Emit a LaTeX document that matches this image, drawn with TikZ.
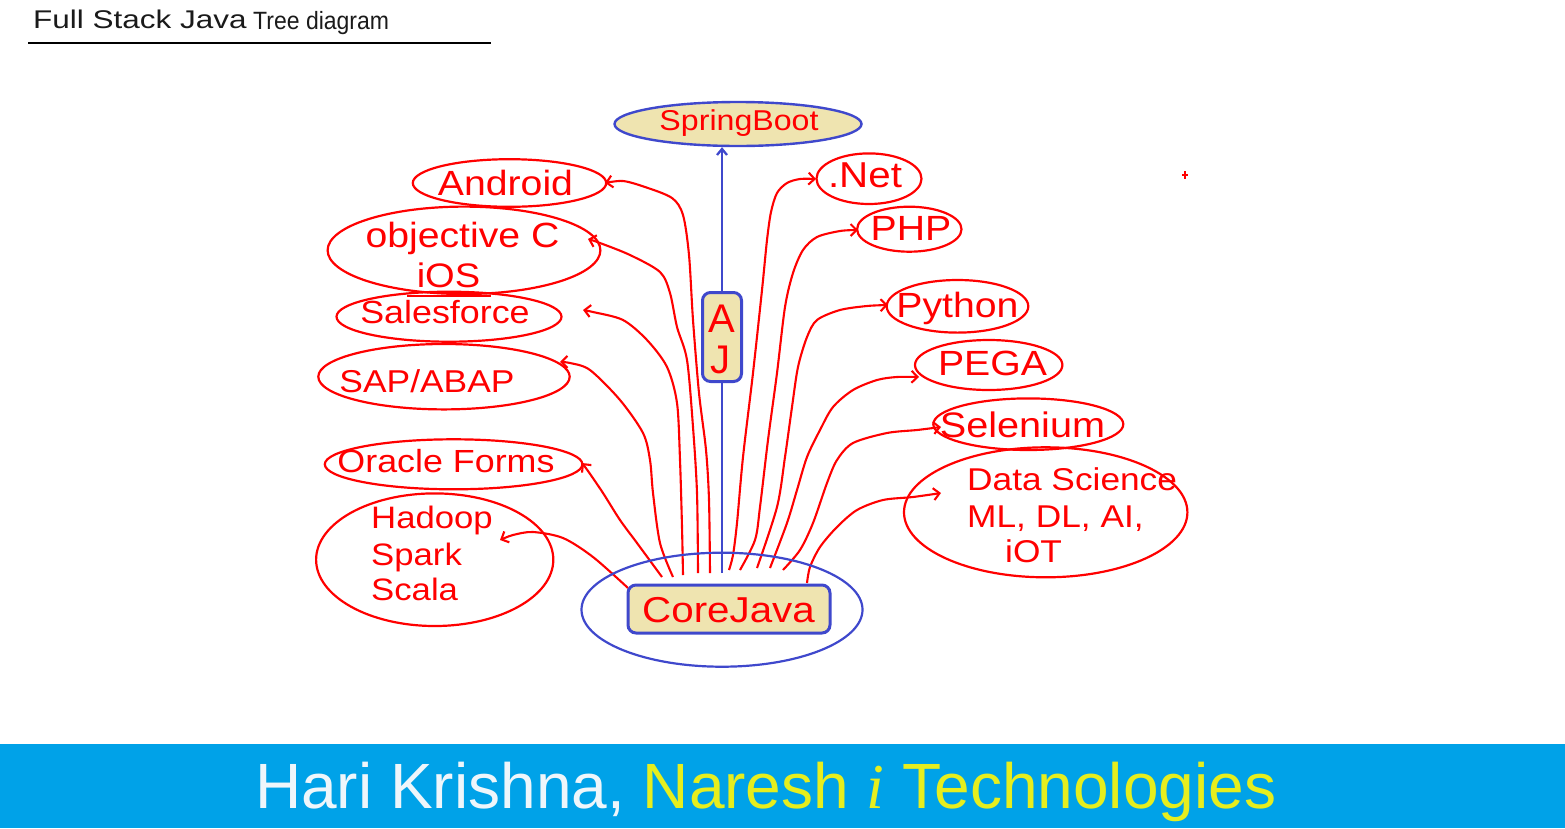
\documentclass[tikz,border=0pt]{standalone}
\usepackage{fontspec}
\setmainfont{Liberation Sans}
\newfontfamily\serifit{Liberation Serif}
\usepackage{graphicx}
\usetikzlibrary{shapes.geometric,arrows.meta}
\definecolor{rd}{HTML}{FF0000}
\definecolor{blu}{HTML}{3F48CC}
\definecolor{tanf}{HTML}{EFE4B0}
\definecolor{band}{HTML}{00A2E8}
\definecolor{yel}{HTML}{E6EE1E}
\definecolor{wht}{HTML}{EEF6FB}
\definecolor{ttl}{HTML}{1A1A1A}
\newcommand{\sx}[1]{\scalebox{1.12}[1]{#1}}
\newcommand{\fs}[1]{\fontsize{#1}{#1}\selectfont}
\begin{document}
\begin{tikzpicture}[x=1pt,y=-1pt,
  oval/.style={draw=rd, line width=2.2pt, ellipse, inner sep=0pt},
  lbl/.style={text=rd, anchor=base, inner sep=0pt},
  lblw/.style={text=rd, anchor=base west, inner sep=0pt},
  conn/.style={draw=rd, line width=2.1pt, -{Straight Barb[length=6pt,width=12pt]}},
  bconn/.style={draw=blu, line width=2.3pt},
  tanbox/.style={draw=blu, line width=3pt, fill=tanf, rounded corners=8pt, inner sep=0pt}]
\useasboundingbox (0,0) rectangle (1565,828);

% title
\node[anchor=base west, inner sep=0pt, text=ttl] (title1) at (33,28.3) {\fs{25.6}\scalebox{1.23}[1]{Full Stack Java}};
\node[anchor=base west, inner sep=0pt, text=ttl] (title2) at (253,29.3) {\fs{25}\scalebox{0.92}[1]{Tree diagram}};
\draw[line width=2.8pt] (28,43) -- (491,43);

% left ellipses
\node[oval, minimum width=193.4pt, minimum height=47.6pt] (android) at (509.5,183) {};
\node[lbl, font=\fs{35}] (tandroid) at (505.5,195) {\sx{Android}};
\node[oval, minimum width=272.8pt, minimum height=87.4pt] (objc) at (464,250.3) {};
\node[lbl, font=\fs{35}] (tobjc) at (462.5,247) {\sx{objective C}};
\node[lbl, font=\fs{34}] (tios) at (448.5,287) {\sx{iOS}};
\draw[rd, line width=1.8pt] (407,296) -- (491,296);
\node[oval, minimum width=225pt, minimum height=50pt] (sf) at (449,316.7) {};
\node[lbl, font=\fs{32}] (tsf) at (445,323) {\sx{Salesforce}};
\node[oval, minimum width=251.4pt, minimum height=65.4pt] (sap) at (444,376.7) {};
\node[lbl, font=\fs{31.6}] (tsap) at (427,392) {\sx{SAP/ABAP}};
\node[oval, minimum width=257.6pt, minimum height=50pt] (ora) at (453.6,464.3) {};
\node[lbl, font=\fs{32}] (tora) at (446,472) {\sx{Oracle Forms}};
\node[oval, minimum width=237.2pt, minimum height=132.6pt] (had) at (434.7,559.7) {};
\node[lblw, font=\fs{31}] (thad1) at (371,528) {\sx{Hadoop}};
\node[lblw, font=\fs{31}] (thad2) at (371,565) {\sx{Spark}};
\node[lblw, font=\fs{31}] (thad3) at (371,600) {\sx{Scala}};

% right ellipses
\node[oval, minimum width=105pt, minimum height=50.6pt] (net) at (869,178.7) {};
\node[lbl, font=\fs{36}] (tnet) at (865,187) {\sx{.Net}};
\node[oval, minimum width=104.4pt, minimum height=45pt] (php) at (909.3,229.2) {};
\node[lbl, font=\fs{35}] (tphp) at (911,240) {\sx{PHP}};
\node[oval, minimum width=141.6pt, minimum height=52.6pt] (py) at (957.5,306.3) {};
\node[lbl, font=\fs{35}] (tpy) at (957.5,317) {\sx{Python}};
\node[oval, minimum width=147.4pt, minimum height=50pt] (pega) at (988.7,365) {};
\node[lbl, font=\fs{35}] (tpega) at (992.5,375) {\sx{PEGA}};
\node[oval, minimum width=190pt, minimum height=51.6pt] (sel) at (1028.3,424.2) {};
\node[lbl, font=\fs{35.4}] (tsel) at (1022.5,437) {\sx{Selenium}};
\node[oval, minimum width=283.4pt, minimum height=130pt] (ds) at (1045.7,512.3) {};
\node[lblw, font=\fs{31.5}] (tds1) at (967,490) {\sx{Data Science}};
\node[lblw, font=\fs{31.5}] (tds2) at (967,527) {\sx{ML, DL, AI,}};
\node[lblw, font=\fs{31.5}] (tds3) at (1005,562) {\sx{iOT}};

% stray mark
\draw[rd, line width=1.3pt] (1182,175) -- (1188,175) (1185,171) -- (1185,179);

% connector end points
\coordinate (s-and) at (710,573);  \coordinate (t-and) at (605,183);
\coordinate (s-obj) at (698,573);  \coordinate (t-obj) at (588,239);
\coordinate (s-sf)  at (683,575);  \coordinate (t-sf)  at (583,310);
\coordinate (s-sap) at (673,577);  \coordinate (t-sap) at (560,362);
\coordinate (s-ora) at (662,577);  \coordinate (t-ora) at (582,463);
\coordinate (s-had) at (628,588);  \coordinate (t-had) at (500,540);
\coordinate (s-net) at (729,570);  \coordinate (t-net) at (816,179);
\coordinate (s-php) at (740,570);  \coordinate (t-php) at (858,230);
\coordinate (s-py)  at (757,568);  \coordinate (t-py)  at (888,305);
\coordinate (s-pega) at (770,568); \coordinate (t-pega) at (919,377);
\coordinate (s-sel) at (783,570);  \coordinate (t-sel) at (941,427);
\coordinate (s-ds)  at (807,583);  \coordinate (t-ds)  at (941,493);

% red connectors
\draw[conn] plot[smooth] coordinates {(s-and) (709,500) (706,450) (699,393) (693,320) (689,255) (683,215) (672,198) (645,187) (623,181) (t-and)};
\draw[conn] plot[smooth] coordinates {(s-obj) (697,493) (693,427) (687,360) (677,327) (670,293) (660,272) (630,255) (600,243) (t-obj)};
\draw[conn] plot[smooth] coordinates {(s-sf) (682,527) (680,460) (677,403) (667,367) (647,340) (623,320) (593,312) (t-sf)};
\draw[conn] plot[smooth] coordinates {(s-sap) (660,543) (653,493) (650,460) (643,433) (620,400) (590,370) (570,363) (t-sap)};
\draw[conn] plot[smooth] coordinates {(s-ora) (637,543) (620,520) (603,493) (588,471) (t-ora)};
\draw[conn] plot[smooth] coordinates {(s-had) (593,557) (563,538) (533,532) (513,535) (t-had)};
\draw[conn] plot[smooth] coordinates {(s-net) (733,555) (737,523) (743,457) (753,373) (762,290) (767,240) (771,212) (777,193) (787,183) (800,179) (t-net)};
\draw[conn] plot[smooth] coordinates {(s-php) (755,540) (760,507) (768,440) (777,373) (785,307) (793,273) (803,250) (817,237) (840,231) (t-php)};
\draw[conn] plot[smooth] coordinates {(s-py) (777,507) (785,457) (792,407) (798,367) (807,337) (817,320) (840,310) (867,306) (t-py)};
\draw[conn] plot[smooth] coordinates {(s-pega) (787,523) (797,490) (807,457) (820,430) (833,407) (853,390) (877,380) (897,377) (t-pega)};
\draw[conn] plot[smooth] coordinates {(s-sel) (800,550) (813,523) (827,483) (837,460) (853,443) (887,433) (917,430) (t-sel)};
\draw[conn] plot[smooth] coordinates {(s-ds) (810,567) (820,547) (837,527) (857,510) (883,500) (913,497) (t-ds)};

% SpringBoot, AJ, CoreJava
\node[ellipse, draw=blu, line width=2.4pt, fill=tanf, inner sep=0pt, minimum width=247pt, minimum height=44pt] (sb) at (738,124) {};
\node[lbl, font=\fs{28.7}] (tsb) at (739,130) {\sx{SpringBoot}};
\node[tanbox, minimum width=39pt, minimum height=89pt] (aj) at (722,337) {};
\node[lbl, font=\fs{40}] (ta) at (722,332) {A};
\node[lbl, font=\fs{40}] (tj) at (720,373) {J};
\coordinate (cjtop) at (722,573);
\draw[bconn] (cjtop) -- (aj.south);
\draw[bconn, -{Straight Barb[length=6pt,width=10pt]}] (aj.north) -- (aj.north |- sb.south);
\node[ellipse, draw=blu, line width=2.2pt, inner sep=0pt, minimum width=281pt, minimum height=114pt] (cjo) at (722,609.7) {};
\node[tanbox, minimum width=202pt, minimum height=48pt] (cj) at (729,609) {};
\node[lbl, font=\fs{36}] (tcj) at (728.5,622) {\sx{CoreJava}};

% footer
\fill[band] (0,744) rectangle (1565,828);
\node[anchor=base west, inner sep=0pt, font=\fs{64}] (foot) at (255,808) {\textcolor{wht}{Hari Krishna,} \textcolor{yel}{Naresh {\serifit\itshape i} Technologies}};
\end{tikzpicture}
\end{document}
